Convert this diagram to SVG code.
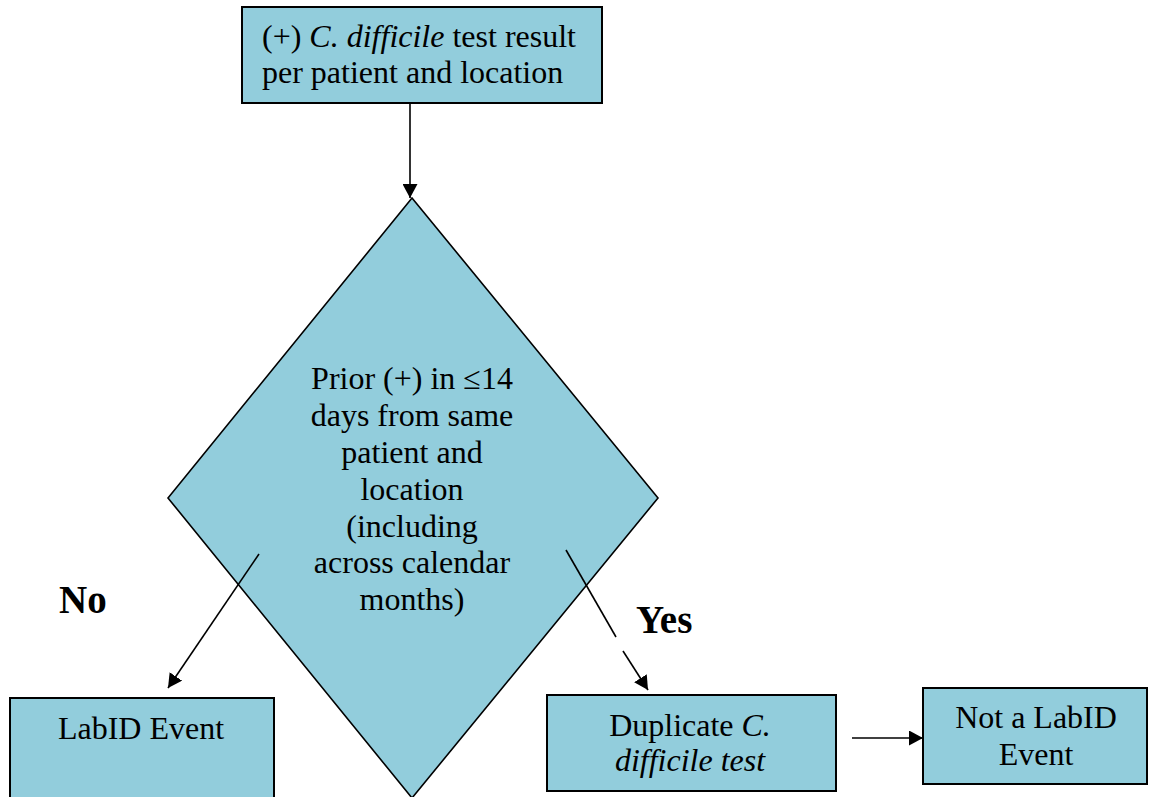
<svg xmlns="http://www.w3.org/2000/svg" width="1152" height="797" viewBox="0 0 1152 797">
  <style>
    .box { fill: #92CDDC; stroke: #000; stroke-width: 2; }
    .dia { fill: #92CDDC; stroke: #000; stroke-width: 1.6; }
    .t { font-family: "Liberation Serif", "Times New Roman", serif; font-size: 32px; fill: #000; }
    .c { text-anchor: middle; }
    .i { font-style: italic; }
    .lbl { font-family: "Liberation Serif", "Times New Roman", serif; font-size: 39px; font-weight: bold; fill: #000; }
    .conn { stroke: #000; stroke-width: 1.6; fill: none; }
  </style>
  <defs>
    <marker id="arr" viewBox="0 0 14 15" refX="14" refY="7.5" markerWidth="14" markerHeight="15" markerUnits="userSpaceOnUse" orient="auto">
      <path d="M0,0 L14,7.5 L0,15 z" fill="#000"/>
    </marker>
  </defs>
  <rect width="1152" height="797" fill="#fff"/>

  <g id="start">
    <rect class="box" x="242" y="7" width="360" height="96"/>
    <text class="t" x="262" y="47">(+) <tspan class="i">C. difficile</tspan> test result</text>
    <text class="t" x="262" y="83">per patient and location</text>
  </g>

  <g id="decision">
    <polygon class="dia" points="412,198 658,498 412,798 168,498"/>
    <text class="t c" x="412" y="389">Prior (+) in ≤14</text>
    <text class="t c" x="412" y="426">days from same</text>
    <text class="t c" x="412" y="463">patient and</text>
    <text class="t c" x="412" y="500">location</text>
    <text class="t c" x="412" y="537">(including</text>
    <text class="t c" x="412" y="573">across calendar</text>
    <text class="t c" x="412" y="610">months)</text>
  </g>

  <g id="labid">
    <rect class="box" x="10" y="698" width="264" height="104"/>
    <text class="t c" x="141" y="739">LabID Event</text>
  </g>

  <g id="duplicate">
    <rect class="box" x="547" y="695" width="289" height="96"/>
    <text class="t c" x="690" y="736">Duplicate <tspan class="i">C.</tspan></text>
    <text class="t c i" x="690" y="771">difficile test</text>
  </g>

  <g id="notlabid">
    <rect class="box" x="923" y="688" width="224" height="96"/>
    <text class="t c" x="1036" y="728">Not a LabID</text>
    <text class="t c" x="1036" y="765">Event</text>
  </g>

  <g id="connectors">
    <line class="conn" x1="410" y1="103" x2="410" y2="198" marker-end="url(#arr)"/>
    <line class="conn" x1="259" y1="554" x2="168" y2="688" marker-end="url(#arr)"/>
    <line class="conn" x1="566" y1="550" x2="616" y2="637"/>
    <line class="conn" x1="623" y1="651" x2="648" y2="690" marker-end="url(#arr)"/>
    <line class="conn" x1="852" y1="738" x2="923" y2="738" marker-end="url(#arr)"/>
  </g>

  <g id="labels">
    <text class="lbl" x="59" y="613">No</text>
    <text class="lbl" x="636" y="633">Yes</text>
  </g>
</svg>
